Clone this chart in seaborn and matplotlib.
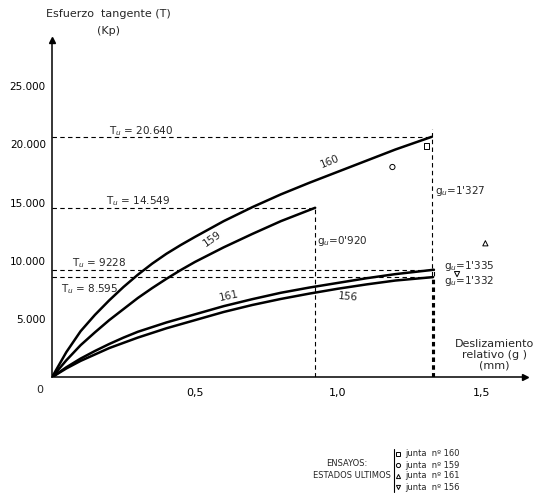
import matplotlib
matplotlib.use('Agg')
import matplotlib.pyplot as plt
import pandas as pd
import seaborn as sns

# curves (g in mm, T in Kp)
g_160 = [0, 0.05, 0.1, 0.15, 0.2, 0.25, 0.3, 0.35, 0.4, 0.45, 0.5, 0.6, 0.7, 0.8, 0.9, 1.0, 1.1, 1.2, 1.327]
t_160 = [0, 2150, 3950, 5350, 6600, 7750, 8800, 9750, 10600, 11350, 12050, 13400, 14600, 15700, 16700, 17650,
         18600, 19550, 20640]
g_159 = [0, 0.05, 0.1, 0.15, 0.2, 0.25, 0.3, 0.35, 0.4, 0.45, 0.5, 0.6, 0.7, 0.8, 0.92]
t_159 = [0, 1450, 2750, 3850, 4900, 5850, 6800, 7650, 8450, 9200, 9900, 11150, 12300, 13400, 14549]
g_161 = [0, 0.05, 0.1, 0.15, 0.2, 0.25, 0.3, 0.35, 0.4, 0.5, 0.6, 0.7, 0.8, 0.9, 1.0, 1.1, 1.2, 1.335]
t_161 = [0, 850, 1600, 2250, 2850, 3400, 3900, 4300, 4700, 5400, 6100, 6700, 7250, 7700, 8100, 8500, 8850, 9228]
g_156 = [0, 0.05, 0.1, 0.15, 0.2, 0.25, 0.3, 0.35, 0.4, 0.5, 0.6, 0.7, 0.8, 0.9, 1.0, 1.1, 1.2, 1.332]
t_156 = [0, 750, 1400, 1950, 2500, 2950, 3400, 3800, 4200, 4900, 5600, 6200, 6720, 7180, 7600, 7970, 8300, 8595]

# ultimate states
juntas = ['160', '159', '161', '156']
g_u = [1.327, 0.920, 1.335, 1.332]
t_u = [20640, 14549, 9228, 8595]
t_u_text = ['20.640', '14.549', '9228', '8.595']
g_u_text = ["1'327", "0'920", "1'335", "1'332"]

# test points (ensayos)
ens_g = [1.31, 1.19, 1.515, 1.416]
ens_t = [19850, 18050, 11500, 8850]
ens_marker = ['s', 'o', '^', 'v']

y_ticks = [5000, 10000, 15000, 20000, 25000]
y_tick_labels = ['5.000', '10.000', '15.000', '20.000', '25.000']
x_ticks = [0.5, 1.0, 1.5]
x_tick_labels = ['0,5', '1,0', '1,5']

frames = []
for name, g, t in [('160', g_160, t_160), ('159', g_159, t_159),
                   ('161', g_161, t_161), ('156', g_156, t_156)]:
    frames.append(pd.DataFrame({'g': g, 'T': t, 'junta': name}))
curves = pd.concat(frames, ignore_index=True)

sns.set_style('white')
plt.rcParams['font.family'] = ['DejaVu Sans']

fig = plt.figure(figsize=(5.34, 4.95), dpi=100)
ax = fig.add_axes([0.0974, 0.238, 0.886, 0.681])
xmax, ymax = 1.654, 28950

sns.lineplot(data=curves, x='g', y='T', hue='junta', palette=['black'] * 4,
             linewidth=1.8, legend=False, sort=False, ax=ax)

dash = dict(color='black', linewidth=0.8, linestyle=(0, (4, 3)))
for g, t in zip(g_u, t_u):
    ax.plot([0, g], [t, t], **dash)
    ax.plot([g, g], [0, t], **dash)
ax.plot([1.327, 1.327], [20640, 21300], **dash)

sns.scatterplot(x=ens_g, y=ens_t, style=juntas, markers=dict(zip(juntas, ens_marker)),
                s=14, facecolor='none', edgecolor='black', linewidth=0.7,
                legend=False, ax=ax)

fs = 7.5
ax.text(0.2, 20900, 'T$_u$ = ' + t_u_text[0], fontsize=fs)
ax.text(0.19, 14850, 'T$_u$ = ' + t_u_text[1], fontsize=fs)
ax.text(0.07, 9500, 'T$_u$ = ' + t_u_text[2], fontsize=fs)
ax.text(0.03, 7300, 'T$_u$ = ' + t_u_text[3], fontsize=fs)
ax.text(1.34, 15700, 'g$_u$=' + g_u_text[0], fontsize=fs)
ax.text(0.925, 11400, 'g$_u$=' + g_u_text[1], fontsize=fs)
ax.text(1.37, 9300, 'g$_u$=' + g_u_text[2], fontsize=fs)
ax.text(1.37, 8000, 'g$_u$=' + g_u_text[3], fontsize=fs)

ax.text(0.97, 17800, '160', fontsize=fs, rotation=22, ha='center', va='bottom')
ax.text(0.56, 11000, '159', fontsize=fs, rotation=35, ha='center', va='bottom')
ax.text(0.62, 6350, '161', fontsize=fs, rotation=12, ha='center', va='bottom')
ax.text(1.035, 6400, '156', fontsize=fs, rotation=-5, ha='center', va='bottom')

ax.set_xlim(0, xmax)
ax.set_ylim(0, ymax)
ax.set_xticks(x_ticks)
ax.set_xticklabels(x_tick_labels, fontsize=8)
ax.set_yticks(y_ticks)
ax.set_yticklabels(y_tick_labels, fontsize=7.5)
ax.tick_params(direction='inout', length=7, width=0.9, colors='black')
ax.tick_params(axis='y', pad=1)
ax.tick_params(axis='x', pad=4)
ax.set_xlabel('')
ax.set_ylabel('')
sns.despine(ax=ax)
for s in ['left', 'bottom']:
    ax.spines[s].set_color('black')
    ax.spines[s].set_linewidth(1.1)
ax.plot(1, 0, '>k', ms=4, transform=ax.transAxes, clip_on=False)
ax.plot(0, 1, '^k', ms=4, transform=ax.transAxes, clip_on=False)

fig.text(40 / 534, 1 - 390 / 495, '0', fontsize=8, ha='center', va='center')
fig.text(108 / 534, 1 - 14 / 495, 'Esfuerzo  tangente (T)', fontsize=8, ha='center', va='center')
fig.text(108 / 534, 1 - 31 / 495, '(Kp)', fontsize=8, ha='center', va='center')
fig.text(494 / 534, 1 - 355 / 495, 'Deslizamiento\nrelativo (g )\n(mm)', fontsize=8,
         ha='center', va='center', linespacing=1.1)

# legend block
fig.text(347 / 534, 1 - 463 / 495, 'ENSAYOS:', fontsize=6, ha='center', va='center')
fig.text(391 / 534, 1 - 475 / 495, 'ESTADOS ULTIMOS', fontsize=6, ha='right', va='center')
fig.add_artist(plt.Line2D([394 / 534, 394 / 534], [1 - 449 / 495, 1 - 492 / 495],
                          color='black', linewidth=0.8))
for i, (name, mk) in enumerate(zip(juntas, ens_marker)):
    yy = 1 - (454 + i * 11) / 495
    fig.add_artist(plt.Line2D([398 / 534], [yy], marker=mk, markersize=3,
                              markerfacecolor='none', markeredgecolor='black',
                              markeredgewidth=0.7, linestyle='none'))
    fig.text(405 / 534, yy, 'junta  nº ' + name, fontsize=6, va='center')

fig.savefig('out.png', dpi=100)
